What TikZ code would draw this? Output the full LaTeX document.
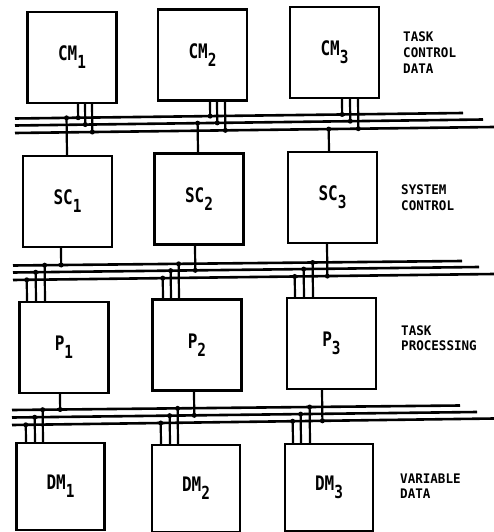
\documentclass[tikz,border=0pt]{standalone}
\usepackage{fontspec}
\usetikzlibrary{calc}
\newfontfamily\boxfont[FakeStretch=0.8]{DejaVu Sans Mono}
\newfontfamily\sidefont[FakeStretch=0.95]{DejaVu Sans Mono}
\newcommand\lsub[1]{\raisebox{-8bp}{\fontsize{18bp}{18bp}\selectfont #1}}
\newcommand\tap[4]{%
  \coordinate (t#4) at #1;
  \draw[wire] (t#4) -- ($(#2)!(t#4)!(#3)$) node[dot] (#4) {};}
\begin{document}
\begin{tikzpicture}[x=1bp,y=-1bp,
  mod/.style={draw, line width=2.4bp, minimum width=89bp, minimum height=91bp, inner sep=0pt,
    font=\boxfont\bfseries\fontsize{20bp}{20bp}\selectfont},
  dmod/.style={mod, minimum width=88bp, minimum height=87bp},
  bus/.style={line width=2.6bp},
  wire/.style={line width=2.2bp},
  dot/.style={circle, fill, inner sep=0pt, minimum size=5bp},
  side/.style={anchor=base west, inner sep=0pt,
    font=\sidefont\bfseries\fontsize{13.2bp}{16bp}\selectfont}]
\useasboundingbox (0,0) rectangle (494,532);
% modules
\node[mod] (CM1) at (72,57.5) {CM\lsub{1}};
\node[mod] (CM2) at (202.5,55) {CM\lsub{2}};
\node[mod] (CM3) at (334.5,52.5) {CM\lsub{3}};
\node[mod] (SC1) at (67.5,201.5) {SC\lsub{1}};
\node[mod] (SC2) at (199,199) {SC\lsub{2}};
\node[mod] (SC3) at (332.5,197.5) {SC\lsub{3}};
\node[mod] (P1) at (64,347.5) {P\lsub{1}};
\node[mod] (P2) at (197,345) {P\lsub{2}};
\node[mod] (P3) at (331.5,343.5) {P\lsub{3}};
\node[dmod] (DM1) at (60.5,486.5) {DM\lsub{1}};
\node[dmod] (DM2) at (196,488.5) {DM\lsub{2}};
\node[dmod] (DM3) at (329,487.5) {DM\lsub{3}};
% buses
\coordinate (b1as) at (15,118.5); \coordinate (b1ae) at (463,113);
\coordinate (b1bs) at (15,125.5); \coordinate (b1be) at (483,119.5);
\coordinate (b1cs) at (15,133);   \coordinate (b1ce) at (494,127);
\coordinate (b2as) at (13,265.5); \coordinate (b2ae) at (462,261);
\coordinate (b2bs) at (13,272.5); \coordinate (b2be) at (479,267);
\coordinate (b2cs) at (13,280);   \coordinate (b2ce) at (494,274);
\coordinate (b3as) at (12,410);   \coordinate (b3ae) at (460,405.5);
\coordinate (b3bs) at (12,417.5); \coordinate (b3be) at (477,412);
\coordinate (b3cs) at (12,425);   \coordinate (b3ce) at (494,418.5);
\foreach \b in {b1a,b1b,b1c,b2a,b2b,b2c,b3a,b3b,b3c}
  \draw[bus] (\b s) -- (\b e);
% CM taps
\tap{([xshift=6bp]CM1.south)}{b1as}{b1ae}{d11}
\tap{([xshift=13bp]CM1.south)}{b1bs}{b1be}{d12}
\tap{([xshift=20bp]CM1.south)}{b1cs}{b1ce}{d13}
\tap{([xshift=7.5bp]CM2.south)}{b1as}{b1ae}{d21}
\tap{([xshift=14.5bp]CM2.south)}{b1bs}{b1be}{d22}
\tap{([xshift=22.5bp]CM2.south)}{b1cs}{b1ce}{d23}
\tap{([xshift=7.5bp]CM3.south)}{b1as}{b1ae}{d31}
\tap{([xshift=15.5bp]CM3.south)}{b1bs}{b1be}{d32}
\tap{([xshift=23.5bp]CM3.south)}{b1cs}{b1ce}{d33}
% SC taps
\tap{([xshift=-0.5bp]SC1.north)}{b1as}{b1ae}{s1t}
\tap{([xshift=-1bp]SC2.north)}{b1bs}{b1be}{s2t}
\tap{([xshift=-3.5bp]SC3.north)}{b1cs}{b1ce}{s3t}
\tap{([xshift=-6.5bp]SC1.south)}{b2as}{b2ae}{s1b}
\tap{([xshift=-4bp]SC2.south)}{b2bs}{b2be}{s2b}
\tap{([xshift=-5.5bp]SC3.south)}{b2cs}{b2ce}{s3b}
% P taps
\tap{([xshift=-37bp]P1.north)}{b2cs}{b2ce}{p11}
\tap{([xshift=-28bp]P1.north)}{b2bs}{b2be}{p12}
\tap{([xshift=-19bp]P1.north)}{b2as}{b2ae}{p13}
\tap{([xshift=-34bp]P2.north)}{b2cs}{b2ce}{p21}
\tap{([xshift=-26bp]P2.north)}{b2bs}{b2be}{p22}
\tap{([xshift=-18bp]P2.north)}{b2as}{b2ae}{p23}
\tap{([xshift=-36.5bp]P3.north)}{b2cs}{b2ce}{p31}
\tap{([xshift=-27.5bp]P3.north)}{b2bs}{b2be}{p32}
\tap{([xshift=-18.5bp]P3.north)}{b2as}{b2ae}{p33}
\tap{([xshift=-4bp]P1.south)}{b3as}{b3ae}{p1b}
\tap{([xshift=-3bp]P2.south)}{b3bs}{b3be}{p2b}
\tap{([xshift=-9.5bp]P3.south)}{b3cs}{b3ce}{p3b}
% DM taps
\tap{([xshift=-34.5bp]DM1.north)}{b3cs}{b3ce}{m11}
\tap{([xshift=-25.5bp]DM1.north)}{b3bs}{b3be}{m12}
\tap{([xshift=-17.5bp]DM1.north)}{b3as}{b3ae}{m13}
\tap{([xshift=-35bp]DM2.north)}{b3cs}{b3ce}{m21}
\tap{([xshift=-26bp]DM2.north)}{b3bs}{b3be}{m22}
\tap{([xshift=-18bp]DM2.north)}{b3as}{b3ae}{m23}
\tap{([xshift=-36bp]DM3.north)}{b3cs}{b3ce}{m31}
\tap{([xshift=-28bp]DM3.north)}{b3bs}{b3be}{m32}
\tap{([xshift=-19bp]DM3.north)}{b3as}{b3ae}{m33}
% side labels
\node[side] (l1a) at (403,42) {TASK};
\node[side] (l1b) at (403,58) {CONTROL};
\node[side] (l1c) at (403,74) {DATA};
\node[side] (l2a) at (401,195) {SYSTEM};
\node[side] (l2b) at (401,211) {CONTROL};
\node[side] (l3a) at (401,335) {TASK};
\node[side] (l3b) at (401,350) {PROCESSING};
\node[side] (l4a) at (400,483) {VARIABLE};
\node[side] (l4b) at (400,498) {DATA};
\end{tikzpicture}
\end{document}
